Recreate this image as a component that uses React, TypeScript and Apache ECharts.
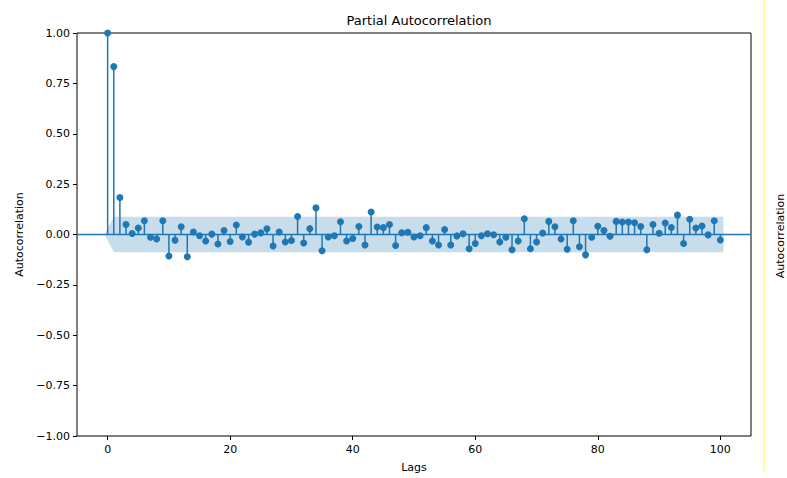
import React, { useEffect, useRef } from "react";
import * as echarts from "echarts";

// Partial autocorrelation values, lag 0 .. 100
const pacfValues: number[] = [
  1, 0.833, 0.184, 0.05, 0.005, 0.032, 0.068, -0.014, -0.022, 0.068,
  -0.107, -0.029, 0.038, -0.11, 0.012, -0.006, -0.032, 0.002, -0.047, 0.02,
  -0.035, 0.047, -0.012, -0.038, 0.002, 0.008, 0.028, -0.057, 0.012, -0.037,
  -0.03, 0.089, -0.042, 0.029, 0.132, -0.081, -0.012, -0.006, 0.063, -0.032,
  -0.02, 0.04, -0.052, 0.112, 0.037, 0.034, 0.05, -0.055, 0.009, 0.011,
  -0.012, -0.006, 0.034, -0.032, -0.052, 0.025, -0.052, -0.007, 0.004, -0.071,
  -0.045, -0.006, 0.004, -0.001, -0.037, -0.014, -0.076, -0.032, 0.078, -0.071,
  -0.037, 0.007, 0.065, 0.038, -0.022, -0.073, 0.068, -0.061, -0.101, -0.014,
  0.041, 0.02, -0.009, 0.065, 0.062, 0.062, 0.058, 0.04, -0.076, 0.05,
  0.006, 0.057, 0.035, 0.096, -0.045, 0.076, 0.032, 0.042, -0.002, 0.068,
  -0.027,
];
const lags: number[] = pacfValues.map((_, i) => i);
const confLimit = 0.088; // 95% confidence half-width
const xTicks: number[] = [0, 20, 40, 60, 80, 100];

const C0 = "#1f77b4";
const FONT = "DejaVu Sans";

export default function App() {
  const ref = useRef<HTMLDivElement>(null);
  useEffect(() => {
    if (!ref.current) return;
    const chart = echarts.init(ref.current, null, { renderer: "svg" });
    const points = lags.map((l, i) => [l, pacfValues[i]]);
    const firstLag = lags[0];
    const lastLag = lags[lags.length - 1];
    const bandData = [
      [firstLag - 0.5, 0, 0],
      [lags[1], -confLimit, confLimit],
      [lastLag + 0.5, -confLimit, confLimit],
    ];
    chart.setOption({
      animation: false,
      backgroundColor: "#ffffff",
      textStyle: { fontFamily: FONT },
      title: {
        text: "Partial Autocorrelation",
        left: 414,
        top: 9,
        textAlign: "center",
        textStyle: { fontFamily: FONT, fontSize: 13, fontWeight: "normal", color: "#000" },
      },
      grid: {
        left: 77,
        right: 36,
        top: 33,
        bottom: 38,
        show: true,
        borderColor: "#000",
        borderWidth: 1,
        backgroundColor: "transparent",
      },
      xAxis: {
        type: "value",
        min: -5,
        max: 105,
        splitLine: { show: false },
        axisLine: { show: false, onZero: false },
        axisTick: { show: true, length: 4, lineStyle: { color: "#000" }, customValues: xTicks },
        axisLabel: {
          customValues: xTicks,
          margin: 8,
          fontSize: 11,
          fontFamily: FONT,
          color: "#000",
        },
        name: "Lags",
        nameLocation: "middle",
        nameGap: 26,
        nameTextStyle: { fontFamily: FONT, fontSize: 11, color: "#000" },
      },
      yAxis: {
        type: "value",
        min: -1,
        max: 1,
        interval: 0.25,
        splitLine: { show: false },
        axisLine: { show: false, onZero: false },
        axisTick: { show: true, length: 4, lineStyle: { color: "#000" } },
        axisLabel: {
          margin: 7,
          fontSize: 11,
          fontFamily: FONT,
          color: "#000",
          formatter: (v: number) => v.toFixed(2).replace("-", "\u2212"),
        },
        name: "Autocorrelation",
        nameLocation: "middle",
        nameGap: 50,
        nameTextStyle: { fontFamily: FONT, fontSize: 11, color: "#000" },
      },
      series: [
        {
          type: "custom",
          name: "band",
          data: bandData,
          silent: true,
          z: 1,
          renderItem: (params: any, api: any) => {
            if (params.dataIndex !== 0) return null;
            const upper = bandData.map((d) => api.coord([d[0], d[2]]));
            const lower = bandData.map((d) => api.coord([d[0], d[1]])).reverse();
            return {
              type: "polygon",
              shape: { points: upper.concat(lower) },
              style: { fill: C0, opacity: 0.25 },
            };
          },
        },
        {
          type: "line",
          name: "zero",
          data: [[-5, 0], [105, 0]],
          showSymbol: false,
          silent: true,
          lineStyle: { color: C0, width: 1.5 },
          z: 2,
        },
        {
          type: "custom",
          name: "stems",
          data: points,
          z: 3,
          clip: true,
          renderItem: (params: any, api: any) => {
            const x = api.value(0);
            const y = api.value(1);
            const p0 = api.coord([x, 0]);
            const p1 = api.coord([x, y]);
            return {
              type: "line",
              shape: { x1: p0[0], y1: p0[1], x2: p1[0], y2: p1[1] },
              style: { stroke: C0, lineWidth: 1.5 },
            };
          },
        },
        {
          type: "scatter",
          name: "pacf",
          data: points,
          symbol: "circle",
          symbolSize: 7,
          clip: true,
          itemStyle: { color: C0, opacity: 1 },
          z: 4,
        },
      ],
      graphic: [
        {
          type: "line",
          shape: { x1: 764, y1: 0, x2: 764, y2: 472 },
          style: { stroke: "#ffff40", lineWidth: 1 },
          silent: true,
        },
        {
          type: "text",
          x: 780,
          y: 236,
          rotation: Math.PI / 2,
          style: {
            text: "Autocorrelation",
            align: "center",
            verticalAlign: "middle",
            fontFamily: FONT,
            fontSize: 11,
            fill: "#000",
          },
          silent: true,
        },
      ],
    });
    return () => chart.dispose();
  }, []);
  return (
    <div
      ref={ref}
      style={{ position: "fixed", left: 0, top: 0, width: 787, height: 478 }}
    />
  );
}
